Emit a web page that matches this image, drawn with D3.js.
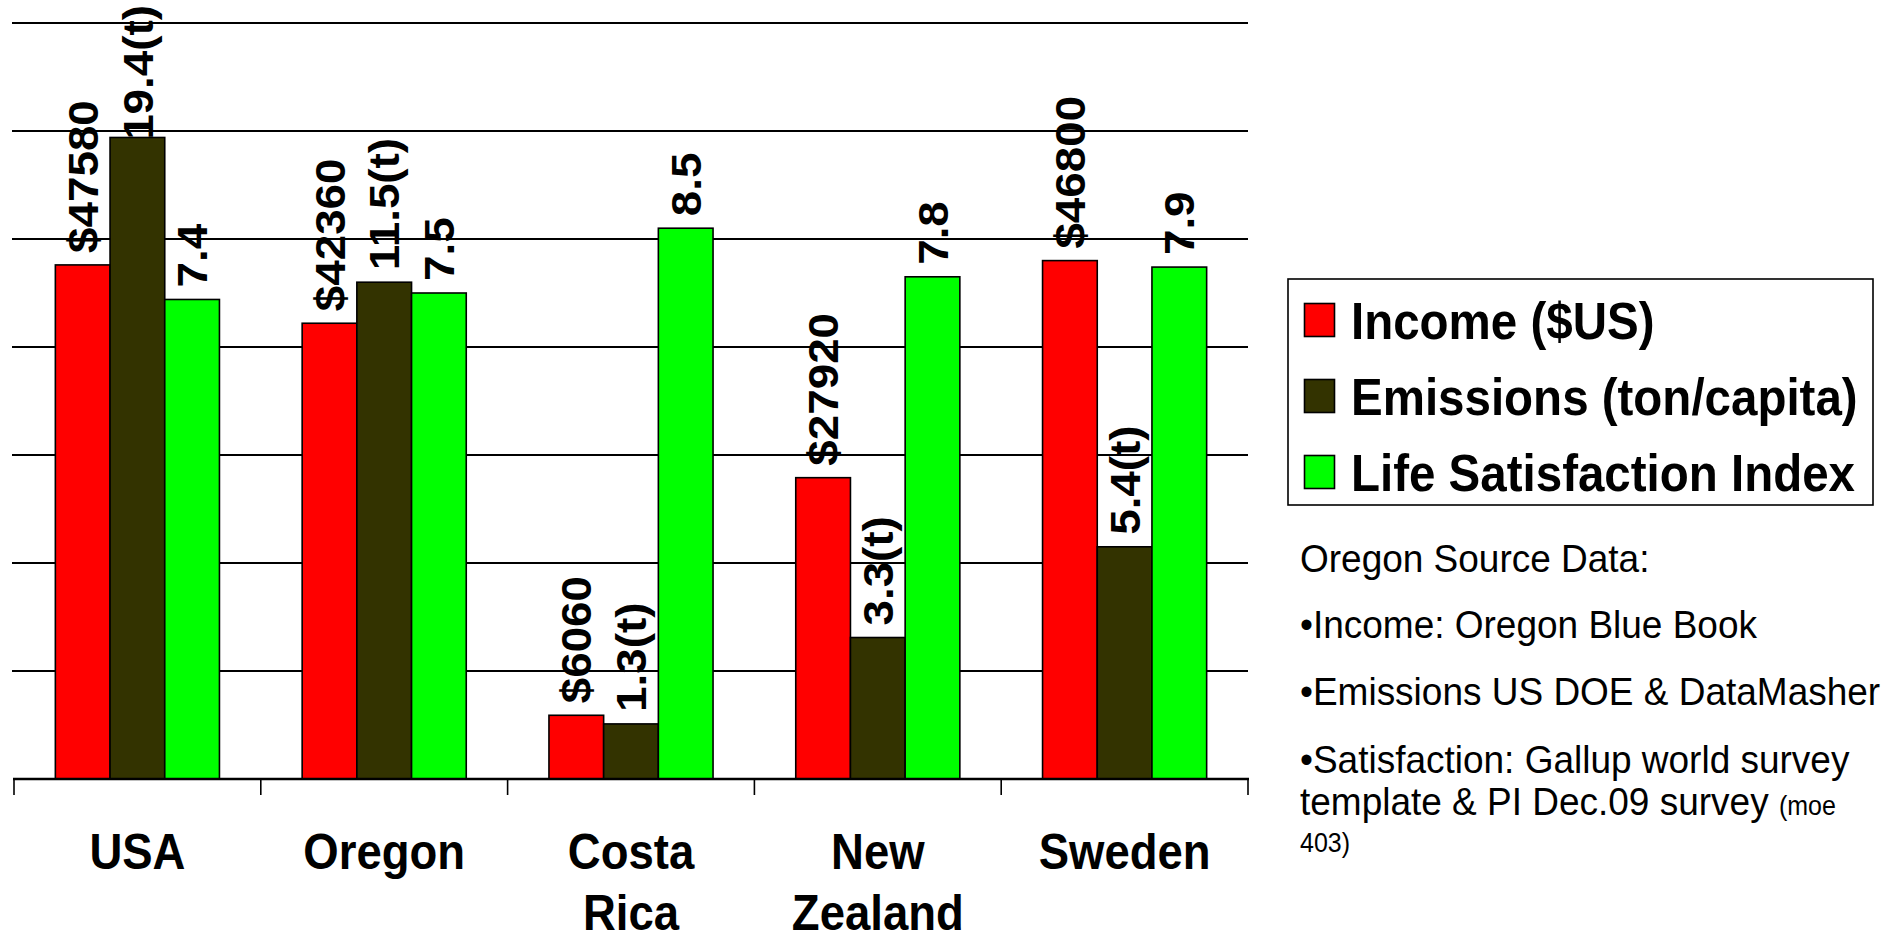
<!DOCTYPE html>
<html>
<head>
<meta charset="utf-8">
<script src="https://cdn.jsdelivr.net/npm/d3@7"></script>
<style>
  html, body { margin: 0; padding: 0; background: #fff; }
  svg { display: block; }
  text { font-family: "Liberation Sans", Arial, sans-serif; }
</style>
</head>
<body>
<svg id="chart" width="1888" height="936"></svg>
<script>
// ---- data (plotted heights in chart units) ----
const categories = ["USA", "Oregon", "Costa Rica", "New Zealand", "Sweden"];
const categoryLines = [["USA"], ["Oregon"], ["Costa", "Rica"], ["New", "Zealand"], ["Sweden"]];
const seriesNames = ["Income ($US)", "Emissions (ton/capita)", "Life Satisfaction Index"];
const seriesColors = ["#ff0000", "#333300", "#00ff00"];
const income = [4.76, 4.22, 0.59, 2.79, 4.80];
const emissions = [5.94, 4.60, 0.51, 1.31, 2.15];
const satisfaction = [4.44, 4.50, 5.10, 4.65, 4.74];
const incomeLabels = ["$47580", "$42360", "$6060", "$27920", "$46800"];
const emissionsLabels = ["19.4(t)", "11.5(t)", "1.3(t)", "3.3(t)", "5.4(t)"];
const satisfactionLabels = ["7.4", "7.5", "8.5", "7.8", "7.9"];
const yTicks = [0, 1, 2, 3, 4, 5, 6, 7];
const sourceLines = [
  "Oregon Source Data:",
  "\u2022Income: Oregon Blue Book",
  "\u2022Emissions US DOE & DataMasher",
  "\u2022Satisfaction: Gallup world survey"
];

const series = [income, emissions, satisfaction];
const seriesLabels = [incomeLabels, emissionsLabels, satisfactionLabels];

const svg = d3.select("#chart");
const K = 1.09; // vertical glyph stretch seen in the picture

const x0 = d3.scaleBand().domain(categories).range([14, 1248]).paddingInner(0).paddingOuter(0);
const x1 = d3.scaleBand().domain(d3.range(3)).range([0, x0.bandwidth()]).paddingInner(0).paddingOuter(0.756);
const y = d3.scaleLinear().domain([0, 7]).range([779, 23]);

// gridlines
svg.append("g").selectAll("line").data(yTicks.filter(t => t > 0)).join("line")
  .attr("x1", 12).attr("x2", 1248)
  .attr("y1", d => y(d)).attr("y2", d => y(d))
  .attr("stroke", "#000").attr("stroke-width", 1.8);

// data labels (drawn before bars so bars cover overflow)
const labelG = svg.append("g");
const barG = svg.append("g");
const gap = 12;
categories.forEach((c, ci) => {
  series.forEach((s, si) => {
    const cx = x0(c) + x1(si) + x1.bandwidth() / 2;
    const t = labelG.append("text")
      .attr("font-size", 42).attr("font-weight", "bold").attr("fill", "#000")
      .attr("dy", "0.36em")
      .text(seriesLabels[si][ci]);
    const len = t.node().getComputedTextLength() * K;
    let bottom = y(s[ci]) - gap;
    if (bottom - len < 5) bottom = 5 + len;
    t.attr("transform", `translate(${cx},${bottom}) scale(1,${K}) rotate(-90)`);
  });
});

// bars
categories.forEach((c, ci) => {
  barG.append("g").selectAll("rect").data(series.map((s, si) => ({ si, v: s[ci] }))).join("rect")
    .attr("x", d => x0(c) + x1(d.si))
    .attr("width", x1.bandwidth())
    .attr("y", d => y(d.v))
    .attr("height", d => y(0) - y(d.v))
    .attr("fill", d => seriesColors[d.si])
    .attr("stroke", "#000").attr("stroke-width", 1.6);
});

// x axis: baseline and ticks at category boundaries
const axisG = svg.append("g");
axisG.append("line").attr("x1", 13).attr("x2", 1249).attr("y1", y(0)).attr("y2", y(0))
  .attr("stroke", "#000").attr("stroke-width", 2.5);
const edges = categories.map(c => x0(c)).concat([x0(categories[categories.length - 1]) + x0.bandwidth()]);
axisG.selectAll("line.tick").data(edges).join("line").attr("class", "tick")
  .attr("x1", d => d).attr("x2", d => d).attr("y1", y(0)).attr("y2", y(0) + 16)
  .attr("stroke", "#000").attr("stroke-width", 1.6);

// category labels
categories.forEach((c, ci) => {
  const cx = x0(c) + x0.bandwidth() / 2;
  categoryLines[ci].forEach((ln, li) => {
    axisG.append("text")
      .attr("transform", `translate(${cx},${869 + li * 61}) scale(1,${K})`)
      .attr("text-anchor", "middle").attr("font-size", 45.5).attr("font-weight", "bold")
      .text(ln);
  });
});

// legend
const lg = svg.append("g");
lg.append("rect").attr("x", 1288).attr("y", 279).attr("width", 585).attr("height", 226)
  .attr("fill", "#fff").attr("stroke", "#000").attr("stroke-width", 1.6);
seriesNames.forEach((n, i) => {
  const cy = 320 + i * 76;
  lg.append("rect").attr("x", 1304.5).attr("y", cy - 16.5).attr("width", 30).attr("height", 33)
    .attr("fill", seriesColors[i]).attr("stroke", "#000").attr("stroke-width", 1.6);
  lg.append("text").attr("transform", `translate(1351,${339 + i * 76}) scale(1,${K})`)
    .attr("font-size", 47.5).attr("font-weight", "bold").text(n);
});

// source notes
const sg = svg.append("g");
const srcBase = [572, 638, 705, 773];
sourceLines.forEach((s, i) => {
  sg.append("text").attr("transform", `translate(1300,${srcBase[i]}) scale(1,1.07)`)
    .attr("font-size", 37).text(s);
});
const t5 = sg.append("text").attr("transform", "translate(1300,815) scale(1,1.07)").attr("font-size", 37);
t5.append("tspan").text("template & PI Dec.09 survey ");
t5.append("tspan").attr("font-size", 25).text("(moe");
sg.append("text").attr("transform", "translate(1300,852) scale(1,1.07)").attr("font-size", 25).text("403)");
</script>
</body>
</html>
